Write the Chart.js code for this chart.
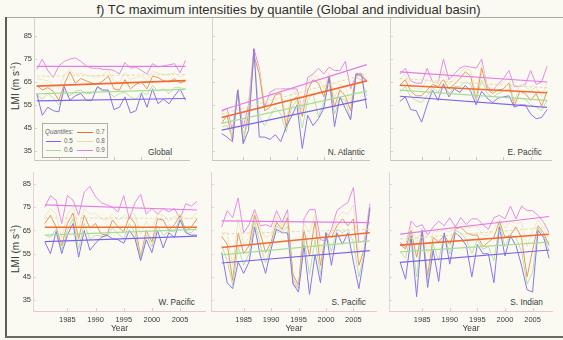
<!DOCTYPE html>
<html>
<head>
<meta charset="utf-8">
<script src="https://cdn.jsdelivr.net/npm/chart.js@4.4.1/dist/chart.umd.min.js"></script>
<style>
  html, body { margin: 0; padding: 0; background: #fbfaf2; }
  #fig { position: relative; width: 563px; height: 340px; overflow: hidden; background: #fbfaf2;
         font-family: "Liberation Sans", Arial, sans-serif; color: #333; }
  #fig canvas { position: absolute; }
  .txt { position: absolute; white-space: nowrap; line-height: 1; }
  .rule { position: absolute; }
  .ytitle { position: absolute; white-space: nowrap; font-size: 10px; line-height: 1; color: #3a3a3a;
            transform: translate(-50%, -50%) rotate(-90deg); }
  .ytitle sup { font-size: 6.5px; vertical-align: 4px; }
  .basin { position: absolute; font-size: 8.3px; line-height: 1; white-space: nowrap; color: #3a3a3a; text-align: right; }
  .legend { position: absolute; left: 42px; top: 123px; width: 64px; height: 33px; border: 1px solid #b0aea6;
            background: #fbfaf2; z-index: 2; }
  .legend span { position: absolute; font-size: 6.3px; line-height: 1; color: #666; white-space: nowrap; }
  .legend b { position: absolute; height: 1px; }
</style>
</head>
<body>
<div id="fig">
  <div class="txt" style="left:0; top:2.5px; width:577px; text-align:center; font-size:13px; color:#2e2e2e;">f) TC maximum intensities by quantile (Global and individual basin)</div>
  <div class="rule" style="left:5px; top:17px; width:558px; height:1px; background:#aaa9a1;"></div>
  <div class="rule" style="left:5px; top:17px; width:2px; height:321px; background:#5d5d55;"></div>
  <div class="rule" style="left:5px; top:336px; width:558px; height:2px; background:#6b6b60;"></div>

  <div class="ytitle" style="left:15px; top:86px;">LMI (m s<sup>-1</sup>)</div>
  <div class="ytitle" style="left:15px; top:249px;">LMI (m s<sup>-1</sup>)</div>

  <div class="basin" style="right:391px; top:147.5px;">Global</div>
  <div class="basin" style="right:198px; top:147.5px;">N. Atlantic</div>
  <div class="basin" style="right:21px; top:148px;">E. Pacific</div>
  <div class="basin" style="right:368px; top:297.5px;">W. Pacific</div>
  <div class="basin" style="right:197px; top:297.5px;">S. Pacific</div>
  <div class="basin" style="right:20px; top:298px;">S. Indian</div>

  <div class="legend" id="legend"></div>
</div>

<script>
// years of record
const years = [1981, 1982, 1983, 1984, 1985, 1986, 1987, 1988, 1989, 1990, 1991, 1992, 1993, 1994,
               1995, 1996, 1997, 1998, 1999, 2000, 2001, 2002, 2003, 2004, 2005, 2006, 2007, 2008];
const yearTicks = [1985, 1990, 1995, 2000, 2005];
const lmiTicks = [35, 45, 55, 65, 75, 85];
const quantiles = ['0.5', '0.6', '0.7', '0.8', '0.9'];

// lifetime maximum intensity (m/s) per quantile, one array per basin and quantile
const globalQ50 = [60, 50.5, 54, 52.5, 52, 63, 57, 59, 60, 57, 57, 63, 61.5, 61.5, 53, 54, 58.5, 51.5, 52.5, 60, 54, 62, 55.5, 57.5, 55.5, 59, 62, 57];
const globalQ60 = [59.5, 57.5, 60, 58, 55, 61, 59, 61, 61.5, 60, 60, 62.5, 61, 61, 58.5, 60, 60.5, 58.5, 57.5, 60.5, 59.5, 63.5, 61, 62, 60, 62.5, 62.5, 62];
const globalQ70 = [63.5, 61.5, 62.5, 61, 57, 64, 69.5, 64.5, 66.5, 65.5, 64.5, 64, 65.5, 67.5, 62, 61.5, 66, 62, 64, 65, 62, 67.5, 67, 65.5, 65, 66.5, 64.5, 65.5];
const globalQ80 = [66.5, 66, 65.5, 64, 62, 68, 70.5, 68, 69, 68, 67.5, 67, 68, 70, 65.5, 65, 69, 66, 67, 67.5, 65.5, 69.5, 69, 68, 68.5, 69, 67, 68.5];
const globalQ90 = [70.5, 75, 70, 67, 72, 74, 75, 75.5, 74, 72, 71, 71, 70.5, 70.5, 70, 68.5, 73.5, 71, 71.5, 70, 68.5, 73, 71.5, 72, 72.5, 73, 69, 74.5];

const natlQ50 = [42.5, 41, 39, 61.5, 38, 44, 79.5, 41, 41, 40, 42, 39, 45.5, 50, 55, 36, 50.5, 46, 49, 53.5, 67, 45.5, 58.5, 53.5, 48.5, 68.5, 68.5, 53.5];
const natlQ60 = [45.5, 46, 41, 61, 40, 48, 78, 50, 46, 50, 54, 51, 43, 54, 57, 45, 57, 60, 50, 56, 66, 51, 58, 57, 49, 67, 66, 59];
const natlQ70 = [47, 50.5, 39.5, 61.5, 39, 51, 76.5, 68.5, 52.5, 54, 59.5, 60, 45.5, 57, 58.5, 50, 61.5, 66, 64.5, 58.5, 67.5, 54, 61.5, 59, 52.5, 68.5, 67.5, 65];
const natlQ80 = [49, 52, 42, 62, 42, 53, 77, 70, 56, 58, 62, 62, 48, 60, 61, 53, 65, 68, 67, 62, 69, 58, 64, 63, 56, 69, 69, 66];
const natlQ90 = [52, 53.5, 44, 62, 45, 55, 79.5, 71, 54, 60.5, 62, 62, 62, 62, 62, 53, 67, 68.5, 71, 68.5, 71.5, 70, 70, 74, 62, 68, 68, 65.5];

const epacQ50 = [56.5, 58.5, 53, 52.5, 47.5, 55, 61.5, 57, 64, 58.5, 62, 60.5, 63.5, 61, 55, 61, 58, 56, 58, 58.5, 59, 54, 55, 55, 51, 49, 49.5, 53];
const epacQ60 = [60.5, 63, 58.5, 57, 56, 59, 62.5, 60.5, 64.5, 60, 63, 63, 65, 64, 57, 66, 60, 58.5, 60, 61, 62, 57, 58, 57.5, 55, 54, 52.5, 57];
const epacQ70 = [63.5, 66, 61, 59, 59, 61.5, 64, 63, 66, 62, 64, 66.5, 69.5, 67.5, 57, 71, 62, 60, 61.5, 62, 64.5, 54.5, 61, 60, 57, 60, 54.5, 61];
const epacQ80 = [66, 68.5, 63.5, 62, 62, 66, 65, 64.5, 70, 64, 66, 69, 71, 70, 60, 73, 64, 62, 63.5, 65, 67, 56, 64, 63, 61, 63, 58.5, 65];
const epacQ90 = [68.5, 71, 65.5, 64.5, 64.5, 71, 65, 64.5, 75, 66, 68.5, 71, 72, 71.5, 71, 75, 63, 61, 64, 66.5, 70, 63, 63, 64, 70, 64, 65, 72];

const wpacQ50 = [60, 55, 64.5, 55, 63, 68, 53.5, 65, 56.5, 59.5, 62, 63, 61.5, 61, 59.5, 65, 61.5, 52, 61, 55.5, 65, 57.5, 64, 62, 69.5, 64, 63, 63];
const wpacQ60 = [63, 62, 65.5, 56.5, 65, 70, 57, 68, 61, 63, 62.5, 62.5, 66, 63.5, 61.5, 68, 64, 53, 63, 58, 67, 63, 64.5, 64.5, 70.5, 64.5, 64, 66.5];
const wpacQ70 = [68, 71.5, 66.5, 58.5, 68, 72.5, 61.5, 71.5, 66, 68, 63.5, 63, 69.5, 66.5, 64.5, 71, 68, 53.5, 65, 60, 70, 69.5, 65, 67.5, 71.5, 65, 66.5, 70];
const wpacQ80 = [71, 74.5, 72, 62, 72, 75, 66, 74.5, 72, 72.5, 70, 69.5, 72, 69.5, 71, 73, 72, 63, 69, 66, 72, 71.5, 69, 71, 72, 70, 70, 73];
const wpacQ90 = [75, 80, 78, 68, 80, 78, 71.5, 81.5, 84, 79.5, 77, 76, 75, 73, 80, 70, 77, 80.5, 72, 74.5, 72, 74.5, 73, 74.5, 70, 76.5, 75.5, 77.5];

const spacQ50 = [55.5, 42.5, 40, 51.5, 46.5, 51.5, 66.5, 54.5, 46.5, 57, 65.5, 64, 64, 42, 38.5, 58.5, 37.5, 54.5, 42.5, 64, 50, 64, 59, 64, 51.5, 40, 54.5, 75];
const spacQ60 = [58.5, 52, 41.5, 58, 50, 55, 69, 59, 51, 58.5, 67, 64.5, 67, 44, 40, 61.5, 46, 61, 46, 64, 56, 65.5, 64, 65.5, 60, 45, 55.5, 74.5];
const spacQ70 = [62.5, 59, 43.5, 64, 55, 58.5, 71.5, 64, 55.5, 60, 68.5, 65.5, 70.5, 46, 41.5, 65, 54, 69, 50, 64, 62, 67, 70, 67, 70, 50, 57, 74];
const spacQ80 = [64, 64, 50, 70, 59, 62, 73, 66, 62, 63, 71, 67, 72, 45, 41, 68, 64, 72, 56, 62, 64, 70, 73, 72, 76, 55, 59, 75.5];
const spacQ90 = [66.5, 73.5, 70.5, 79, 64, 67.5, 74, 67, 67.5, 66.5, 73.5, 68.5, 74, 42, 40, 70, 74, 74, 61, 60.5, 65.5, 73.5, 75.5, 77, 83.5, 60, 60.5, 76.5];

const sindQ50 = [51.5, 44, 62.5, 36.5, 65, 40.5, 56.5, 43, 64, 50.5, 64, 62, 58.5, 45, 59, 55, 55, 42.5, 66.5, 54, 62.5, 58.5, 50, 39.5, 38.5, 65, 62, 53];
const sindQ60 = [56, 53, 64, 45, 65, 43, 59, 52, 63.5, 55, 65, 64, 61, 55, 61, 57, 58, 52, 68, 58, 63, 62, 56, 42, 47, 66, 63, 56];
const sindQ70 = [59, 57, 65, 53.5, 65, 45.5, 62, 60, 63, 59, 65.5, 66.5, 64, 63, 63, 58, 60, 62, 69, 62, 63, 66.5, 62, 45, 56.5, 67, 64, 58.5];
const sindQ80 = [59.5, 57.5, 67, 60, 66, 55, 64.5, 64.5, 65, 64.5, 66, 68.5, 66, 66.5, 66.5, 63, 63, 66, 70, 66, 69, 68, 68.5, 58, 65, 69.5, 66, 61.5];
const sindQ90 = [60, 57.5, 69, 66.5, 67.5, 63, 66.5, 69, 67, 70.5, 66.5, 70.5, 67.5, 70, 70, 67.5, 65.5, 70.5, 71.5, 70, 75.5, 70, 75.5, 73.5, 73.5, 71.5, 68.5, 64];

// linear trend per quantile: [value at first year, value at last year]
const globalTrend = [[56.8, 57.8], [59.8, 61.8], [63.2, 65.6], [67.5, 68.3], [71.8, 71.8]];
const natlTrend   = [[44, 57.5], [47, 61], [49.5, 65.5], [51, 68.5], [52.7, 72.6]];
const epacTrend   = [[58.8, 53.9], [61.5, 57], [63.6, 60.3], [66.5, 62.5], [69.4, 65]];
const wpacTrend   = [[60.2, 62.6], [63, 65.5], [66.4, 66.4], [70.4, 70.2], [76, 73.8]];
const spacTrend   = [[51, 56.3], [54.5, 60.5], [57.7, 64], [63.5, 65.5], [69.1, 68.4]];
const sindTrend   = [[51.3, 56.6], [55.8, 60], [58.7, 63.4], [61.3, 66.3], [63.4, 71]];

// styling
const lineColors  = ['#8b74e8', '#b6e3a8', '#e9955e', '#ece8c8', '#e68ce6'];
const trendColors = ['#7c64ea', '#a6dc98', '#f06c32', '#e3ddb2', '#e57be5'];
const trendWidths = [1.2, 1.2, 1.6, 1.1, 1.2];

// panel geometry: plot area [left, right, top, bottom] in page px, axis ranges
const panels = [
  { series: [globalQ50, globalQ60, globalQ70, globalQ80, globalQ90], trend: globalTrend,
    area: [34, 190, 18, 160], xr: [1980.5, 2008.8], yr: [31, 92.9], yLabels: true, xLabels: false },
  { series: [natlQ50, natlQ60, natlQ70, natlQ80, natlQ90], trend: natlTrend,
    area: [212, 370, 18, 160], xr: [1979.2, 2008.6], yr: [31, 92.9], yLabels: false, xLabels: false },
  { series: [epacQ50, epacQ60, epacQ70, epacQ80, epacQ90], trend: epacTrend,
    area: [390, 552, 18, 160], xr: [1979.2, 2008.9], yr: [31, 92.9], yLabels: false, xLabels: false },
  { series: [wpacQ50, wpacQ60, wpacQ70, wpacQ80, wpacQ90], trend: wpacTrend,
    area: [33, 206, 172, 311], xr: [1978.9, 2009.6], yr: [30.35, 90.15], yLabels: true, xLabels: true },
  { series: [spacQ50, spacQ60, spacQ70, spacQ80, spacQ90], trend: spacTrend,
    area: [211, 377, 172, 311], xr: [1979.05, 2009.3], yr: [30.35, 90.15], yLabels: false, xLabels: true },
  { series: [sindQ50, sindQ60, sindQ70, sindQ80, sindQ90], trend: sindTrend,
    area: [389, 553, 172, 311], xr: [1979, 2008.7], yr: [30.35, 90.15], yLabels: false, xLabels: true }
];

// short tick marks drawn inside the plot area
const innerTicks = {
  id: 'innerTicks',
  beforeDatasetsDraw(chart, args, opts) {
    const { ctx, chartArea, scales: { x, y } } = chart;
    ctx.save();
    ctx.lineWidth = 1;
    ctx.strokeStyle = opts.xColor;
    x.ticks.forEach(t => {
      const px = Math.round(x.getPixelForValue(t.value)) + 0.5;
      ctx.beginPath();
      ctx.moveTo(px, chartArea.bottom);
      ctx.lineTo(px, chartArea.bottom - 3);
      ctx.stroke();
    });
    ctx.strokeStyle = opts.yColor;
    y.ticks.forEach(t => {
      const py = Math.round(y.getPixelForValue(t.value)) + 0.5;
      ctx.beginPath();
      ctx.moveTo(chartArea.left, py);
      ctx.lineTo(chartArea.left + 3, py);
      ctx.stroke();
    });
    ctx.restore();
  }
};

const fig = document.getElementById('fig');

function buildPanel(p) {
  const [L, R, T, B] = p.area;
  const yw = p.yLabels ? 24 : 4;
  const xh = p.xLabels ? 23 : 4;
  const bottomRow = p.xLabels;
  const xColor = bottomRow ? '#eec3cb' : '#c7c4bc';
  const yColor = bottomRow ? '#e6d2d5' : '#d5d2ca';

  const cv = document.createElement('canvas');
  cv.width = R - L + yw;
  cv.height = B - T + xh;
  cv.style.left = (L - yw) + 'px';
  cv.style.top = T + 'px';
  fig.appendChild(cv);

  const last = years.length - 1;
  const datasets = [];
  p.trend.forEach((t, k) => datasets.push({
    data: [{ x: years[0], y: t[0] }, { x: years[last], y: t[1] }],
    borderColor: trendColors[k],
    borderWidth: trendWidths[k],
    borderDash: k === 3 ? [3, 2] : []
  }));
  p.series.forEach((s, k) => datasets.push({
    label: quantiles[k],
    data: years.map((yr, i) => ({ x: yr, y: s[i] })),
    borderColor: lineColors[k],
    borderWidth: 1
  }));

  new Chart(cv, {
    type: 'line',
    data: { datasets },
    options: {
      responsive: false,
      animation: false,
      devicePixelRatio: 1,
      layout: { padding: 0 },
      elements: { point: { radius: 0 }, line: { tension: 0, fill: false } },
      plugins: {
        legend: { display: false },
        tooltip: { enabled: false },
        innerTicks: { xColor, yColor }
      },
      scales: {
        x: {
          type: 'linear',
          min: p.xr[0],
          max: p.xr[1],
          afterBuildTicks: s => { s.ticks = yearTicks.map(v => ({ value: v })); },
          afterFit: s => { s.height = xh; s.paddingLeft = 0; s.paddingRight = 0; },
          grid: { drawOnChartArea: false, drawTicks: false },
          border: { color: xColor, width: 1 },
          ticks: {
            display: p.xLabels,
            padding: 4,
            color: '#3a3a3a',
            font: { family: 'Liberation Sans', size: 7.5 },
            maxRotation: 0,
            callback: v => String(v)
          },
          title: {
            display: p.xLabels,
            text: 'Year',
            color: '#3a3a3a',
            padding: 0,
            font: { family: 'Liberation Sans', size: 8.5 }
          }
        },
        y: {
          min: p.yr[0],
          max: p.yr[1],
          afterBuildTicks: s => { s.ticks = lmiTicks.map(v => ({ value: v })); },
          afterFit: s => { s.width = yw; s.paddingTop = 0; s.paddingBottom = 0; },
          grid: { drawOnChartArea: false, drawTicks: false },
          border: { color: yColor, width: 1 },
          ticks: {
            display: p.yLabels,
            padding: 2,
            color: '#3a3a3a',
            font: { family: 'Liberation Sans', size: 7.5 },
            callback: v => String(v)
          }
        }
      }
    },
    plugins: [innerTicks]
  });
}

panels.forEach(buildPanel);

// quantile key in the global panel
const legend = document.getElementById('legend');
const keyItems = [
  { q: 2, lx: 34, ly: 8, tx: 53 },
  { q: 0, lx: 3, ly: 17, tx: 21 },
  { q: 3, lx: 34, ly: 17, tx: 53 },
  { q: 1, lx: 3, ly: 26, tx: 21 },
  { q: 4, lx: 34, ly: 26, tx: 53 }
];
const head = document.createElement('span');
head.style.cssText = 'left:2px; top:5px; font-style:italic;';
head.textContent = 'Quantiles:';
legend.appendChild(head);
keyItems.forEach(k => {
  const sw = document.createElement('b');
  sw.style.cssText = `left:${k.lx}px; top:${k.ly}px; width:${k.q < 2 ? 15 : 16}px; background:${trendColors[k.q]};`;
  legend.appendChild(sw);
  const tx = document.createElement('span');
  tx.style.cssText = `left:${k.tx}px; top:${k.ly - 3}px;`;
  tx.textContent = quantiles[k.q];
  legend.appendChild(tx);
});
</script>
</body>
</html>
